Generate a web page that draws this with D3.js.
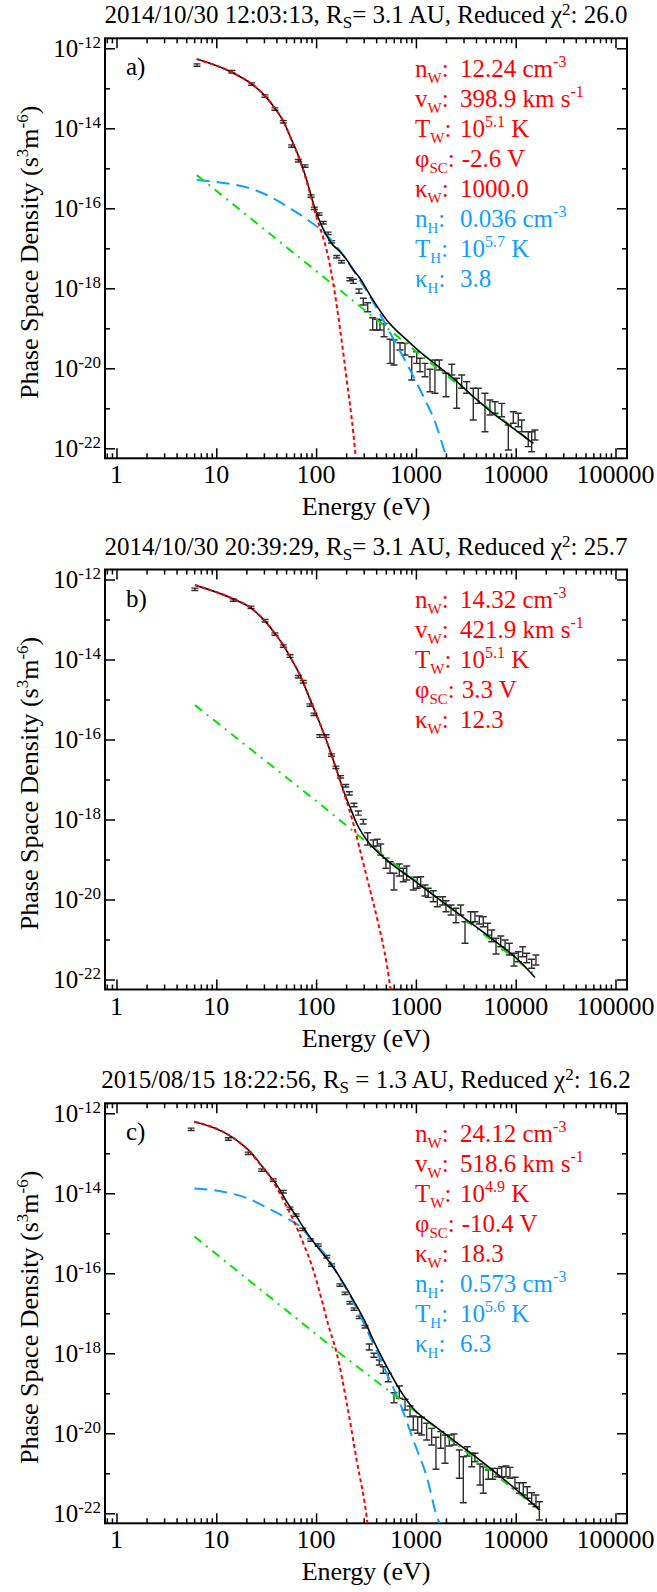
<!DOCTYPE html>
<html>
<head>
<meta charset="utf-8">
<script src="https://cdn.jsdelivr.net/npm/d3@7"></script>
<style>
  body { margin: 0; background: #fff; }
  svg { display: block; }
  svg text { font-family: 'Liberation Serif', 'DejaVu Serif', serif; }
</style>
</head>
<body>
<svg id="myGraph" width="657" height="1592"></svg>
<script>
// axis ticks
var xTickValues = [1, 10, 100, 1000, 10000, 100000];
var xTickLabels = ['1', '10', '100', '1000', '10000', '100000'];
var yTickValues = [1e-12, 1e-14, 1e-16, 1e-18, 1e-20, 1e-22];
var yTickExps = ['-12', '-14', '-16', '-18', '-20', '-22'];
var yMinorValues = [1e-13, 1e-15, 1e-17, 1e-19, 1e-21];

// ---- panel a : measured points (eV, top and bottom of error bar)
var energyA = [6.4, 14.3, 22.6, 30.8, 38.7, 46.9, 56.9, 66.4, 77.4, 88.9, 96, 107, 118, 132, 143, 161, 180,
  218, 236, 269, 297, 329, 369, 405, 437, 479, 551, 603, 693, 778, 908, 1019, 1099, 1233, 1384, 1552, 1718,
  2004, 2286, 2564, 2877, 3228, 3758, 4217, 4920, 5521, 6209, 7244, 8433, 9462, 10617, 11482, 13366, 14454, 15596];
var psdHiA = [4.09e-13, 2.78e-13, 1.37e-13, 6.86e-14, 3.24e-14, 1.56e-14, 3.86e-15, 1.66e-15, 1.22e-15, 2.17e-16,
  1.07e-16, 7.7e-17, 4.68e-17, 2.54e-17, 1.56e-17, 6.6e-18, 4.94e-18,
  1.84e-18, 1.68e-18, 9.6e-19, 5.62e-19, 4.37e-19, 1.84e-19, 1.68e-19, 1.61e-19, 1.33e-19, 5.31e-20, 5.09e-20,
  4.37e-20, 4.22e-20, 1.95e-20, 2.6e-20, 1.78e-20, 1.33e-20, 9.44e-21, 1.61e-20, 1.61e-20, 7.5e-21, 1.26e-20,
  5.62e-21, 6.79e-21, 4.62e-21, 3.16e-21, 3.16e-21, 2.37e-21, 1.61e-21, 1.46e-21, 1.33e-21, 3.82e-22, 8.22e-22,
  7.5e-22, 5.09e-22, 2.6e-22, 2.6e-22, 2.86e-22];
var psdLoA = [3.55e-13, 2.42e-13, 1.19e-13, 5.96e-14, 2.82e-14, 1.36e-14, 3.36e-15, 1.44e-15, 1.06e-15, 1.89e-16,
  9.3e-17, 6.7e-17, 4.06e-17, 2.2e-17, 1.36e-17, 5.74e-18, 4.3e-18,
  1.55e-18, 1.33e-18, 7.5e-19, 3.82e-19, 2.6e-19, 9.06e-20, 9.06e-20, 9.06e-20, 6.17e-20, 1.33e-20, 1.21e-20,
  2.86e-20, 2.15e-20, 5.09e-21, 1.33e-20, 8.22e-21, 6.17e-21, 2.6e-21, 2.37e-21, 9.06e-21, 1.95e-21, 6.79e-21,
  1.0e-21, 3.16e-21, 2.37e-21, 5.09e-22, 1.33e-21, 2.6e-22, 6.79e-22, 7.5e-22, 6.17e-22, 9.06e-23, 4.22e-22,
  3.47e-22, 2.6e-22, 1.1e-22, 8.22e-23, 1.61e-22];
// panel a : fitted curves
var totalEA = [6.37, 14.3, 22.6, 30.8, 38.7, 46.9, 56.9, 69.0, 80.5, 93.8, 109, 123, 143, 173, 203, 236, 275,
  347, 509, 809, 1099, 1614, 2371, 3758, 5970, 9462, 15000];
var totalFA = [5.37e-13, 2.51e-13, 1.29e-13, 6.46e-14, 3.16e-14, 1.51e-14, 5.13e-15, 1.62e-15, 5.13e-16, 1.32e-16,
  4.68e-17, 2.45e-17, 1.32e-17, 8.32e-18, 5.13e-18, 2.88e-18, 1.78e-18, 6.76e-19, 1.62e-19, 5.13e-20, 2.57e-20,
  1.20e-20, 5.62e-21, 1.95e-21, 7.41e-22, 3.16e-22, 1.32e-22];
var coreEA = [6.37, 14.3, 22.6, 30.8, 38.7, 46.9, 56.9, 69.0, 80.5, 93.8, 101, 118, 128, 149, 173, 203, 236, 250];
var coreFA = [5.37e-13, 2.51e-13, 1.29e-13, 6.46e-14, 3.16e-14, 1.51e-14, 5.01e-15, 1.55e-15, 4.68e-16, 1.17e-16,
  6.03e-17, 1.82e-17, 8.71e-18, 1.26e-18, 1.05e-19, 5.01e-21, 2.40e-22, 5.62e-23];
var haloEA = [6.37, 13.7, 21.8, 34.5, 54.8, 86.9, 128, 161, 255, 347, 471, 643, 873, 1186, 1614, 1950, 2042];
var haloFA = [5.13e-16, 4.07e-16, 3.16e-16, 1.95e-16, 1.0e-16, 4.68e-17, 2.14e-17, 1.10e-17, 2.14e-18, 6.17e-19,
  1.62e-19, 3.80e-20, 9.12e-21, 2.0e-21, 3.55e-22, 7.94e-23, 5.62e-23];
var powEA = [6.37, 118, 1099, 15000];
var powFA = [6.76e-16, 1.95e-18, 2.2e-20, 1.32e-22];

// ---- panel b
var energyB = [6.1, 14.8, 22.3, 30.8, 38.7, 46.9, 54.8, 66.4, 74.5, 86.9, 95.3, 109, 126, 143, 158, 176, 198, 215,
  240, 265, 297, 329, 374, 410, 444, 501, 551, 603, 682, 748, 809, 942, 1033, 1117, 1233, 1330, 1493, 1641, 1858,
  2004, 2249, 2523, 2812, 3105, 3540, 3908, 4315, 4732, 5236, 5754, 6353, 7079, 7816, 8630, 9616, 10617, 11749,
  12882, 14454, 15959];
var psdHiB = [6.09e-13, 3.28e-13, 2.16e-13, 9.98e-14, 4.64e-14, 2.32e-14, 1.31e-14, 3.98e-15, 2.99e-15, 7.79e-16,
  4.57e-16, 1.31e-16, 1.31e-16, 4.38e-17, 2.16e-17, 1.25e-17, 7.49e-18, 4.95e-18, 2.54e-18, 1.63e-18,
  1.01e-18, 4.68e-19, 3.07e-19, 3.2e-19, 2.44e-19, 1.07e-19, 8.81e-20, 4.52e-20, 7.71e-20, 6.03e-20, 6.87e-20,
  3.59e-20, 3.59e-20, 3.72e-20, 2.3e-20, 1.91e-20, 1.66e-20, 1.17e-20, 1.17e-20, 9.33e-21, 7.28e-21, 6.03e-21,
  7.28e-21, 2.79e-21, 4.95e-21, 4.95e-21, 3.86e-21, 3.72e-21, 2.54e-21, 1.73e-21, 1.07e-21, 1.22e-21, 9.7e-22,
  8.04e-22, 4.52e-22, 4.95e-22, 6.61e-22, 4.52e-22, 3.2e-22, 4.09e-22];
var psdLoB = [5.29e-13, 2.86e-13, 1.88e-13, 8.68e-14, 4.04e-14, 2.02e-14, 1.13e-14, 3.46e-15, 2.59e-15, 6.77e-16,
  3.97e-16, 1.13e-16, 1.13e-16, 3.8e-17, 1.88e-17, 1.09e-17, 6.51e-18, 4.09e-18, 2.09e-18, 1.29e-18,
  7.71e-19, 2.3e-19, 2.09e-19, 2.17e-19, 1.29e-19, 6.03e-20, 4.52e-20, 1.73e-20, 3.86e-20, 2.79e-20, 3.07e-20,
  1.73e-20, 1.91e-20, 2.09e-20, 1.22e-20, 1.13e-20, 8.81e-21, 6.61e-21, 7.28e-21, 4.95e-21, 4.09e-21, 2.63e-21,
  4.09e-21, 8.04e-22, 2.63e-21, 2.79e-21, 2.44e-21, 2.09e-21, 1.29e-21, 8.81e-22, 4.34e-22, 6.61e-22, 5.46e-22,
  4.09e-22, 2.17e-22, 2.79e-22, 3.72e-22, 2.63e-22, 1.91e-22, 2.3e-22];
var totalEB = [6.12, 14.3, 21.8, 30.8, 38.7, 46.9, 54.8, 69.0, 83.6, 101, 123, 143, 167, 195, 218, 255, 321, 509,
  942, 1742, 3228, 5970, 11040, 15600];
var totalFB = [7.24e-13, 3.39e-13, 2.0e-13, 9.12e-14, 4.47e-14, 2.29e-14, 1.17e-14, 4.07e-15, 1.29e-15, 4.07e-16,
  1.17e-16, 4.07e-17, 1.29e-17, 4.07e-18, 2.09e-18, 7.94e-19, 3.09e-19, 9.77e-20, 3.09e-20, 9.77e-21, 3.09e-21,
  9.77e-22, 2.82e-22, 1.12e-22];
var coreEB = [6.12, 14.3, 21.8, 30.8, 38.7, 46.9, 54.8, 69.0, 83.6, 101, 123, 143, 167, 195, 236, 286, 347, 420, 509, 558];
var coreFB = [7.24e-13, 3.39e-13, 2.0e-13, 9.12e-14, 4.47e-14, 2.29e-14, 1.17e-14, 4.07e-15, 1.29e-15, 4.07e-16,
  1.17e-16, 4.0e-17, 1.26e-17, 3.80e-18, 7.94e-19, 1.17e-19, 1.74e-20, 2.51e-21, 2.51e-22, 5.62e-23];
var powEB = [6.12, 109, 275, 15600];
var powFB = [7.24e-16, 2.45e-18, 3.72e-19, 1.32e-22];

// ---- panel c
var energyC = [5.6, 13.2, 20.9, 28.5, 37.2, 46.9, 54.8, 63.0, 73.5, 88.3, 105, 128, 143, 173, 195, 218, 240, 271,
  309, 341, 380, 430, 471, 528, 603, 682, 778, 873, 942, 1042, 1143, 1282, 1439, 1589, 1774, 1959, 2163, 2410,
  2723, 2985, 3273, 3622, 3908, 4385, 4732, 5321, 5888, 6546, 7244, 7998, 8770, 9840, 10864, 11912, 13062,
  14454, 15959, 17258];
var psdHiC = [4.26e-13, 2.44e-13, 1.07e-13, 4.09e-14, 2.3e-14, 1.18e-14, 4.52e-15, 3.06e-15, 1.35e-15, 7.27e-16,
  5.45e-16, 2.78e-16, 1.72e-16, 5.45e-17, 3.38e-17, 1.97e-17, 1.37e-17, 8.5e-18, 4.94e-18,
  1.71e-18, 1.0e-18, 6.79e-19, 4.62e-19, 3.16e-19, 1.03e-19, 1.52e-19, 7.08e-20, 4.81e-20, 2.7e-20, 2.6e-20,
  2.51e-20, 1.78e-20, 1.33e-20, 7.94e-21, 1.1e-20, 9.06e-21, 9.06e-21, 9.6e-21, 3.82e-21, 2.6e-21, 4.62e-21,
  3.16e-21, 3.16e-21, 1.71e-21, 1.46e-21, 1.21e-21, 1.33e-21, 1.33e-21, 1.46e-21, 1.52e-21, 1.41e-21, 7.94e-22,
  5.82e-22, 5.82e-22, 4.62e-22, 3.27e-22, 2.86e-22, 1.95e-22];
var psdLoC = [3.70e-13, 2.12e-13, 9.3e-14, 3.55e-14, 2.0e-14, 1.02e-14, 3.92e-15, 2.66e-15, 1.17e-15, 6.31e-16,
  4.73e-16, 2.42e-16, 1.50e-16, 4.73e-17, 2.94e-17, 1.71e-17, 1.19e-17, 7.38e-18, 4.30e-18,
  1.21e-18, 7.94e-19, 5.09e-19, 3.16e-19, 1.95e-19, 5.82e-20, 7.5e-20, 3.82e-20, 2.6e-20, 1.21e-20, 1.0e-20,
  9.06e-21, 6.79e-21, 5.09e-21, 1.26e-21, 4.22e-21, 1.78e-21, 4.81e-21, 5.09e-21, 7.5e-22, 1.84e-22, 2.7e-21,
  1.46e-21, 1.95e-21, 5.09e-22, 3.16e-22, 7.08e-22, 7.08e-22, 8.22e-22, 7.94e-22, 8.22e-22, 7.5e-22, 4.22e-22,
  3.16e-22, 2.86e-22, 2.37e-22, 1.71e-22, 1.46e-22, 6.79e-23];
var totalEC = [6.03, 14.3, 21.8, 30.8, 40.3, 50.7, 64.0, 83.6, 109, 143, 180, 236, 309, 374, 509, 693, 942, 1493,
  2371, 4385, 8128, 12882, 17500];
var totalFC = [6.17e-13, 2.57e-13, 1.10e-13, 3.80e-14, 1.62e-14, 6.17e-15, 2.57e-15, 9.12e-16, 3.80e-16, 1.62e-16,
  6.76e-17, 2.14e-17, 6.17e-18, 2.14e-18, 4.68e-19, 1.20e-19, 4.17e-20, 1.62e-20, 6.76e-21, 2.14e-21, 6.17e-22,
  2.34e-22, 1.20e-22];
var coreEC = [6.03, 14.3, 21.8, 25.4, 34.5, 46.9, 59.2, 74.5, 93.8, 114, 132, 161, 203, 255, 321, 327];
var coreFC = [6.17e-13, 2.57e-13, 1.07e-13, 6.76e-14, 2.63e-14, 6.76e-15, 2.14e-15, 5.62e-16, 1.20e-16, 2.14e-17,
  5.25e-18, 1.0e-18, 5.62e-20, 2.14e-21, 8.13e-23, 5.62e-23];
var haloEC = [6.03, 12.7, 21.8, 34.5, 50.7, 69.0, 93.8, 128, 173, 236, 347, 509, 693, 942, 1282, 1675, 1738];
var haloFC = [1.32e-14, 1.05e-14, 7.08e-15, 3.98e-15, 2.40e-15, 1.48e-15, 6.17e-16, 2.63e-16, 7.59e-17, 1.95e-17,
  2.63e-18, 3.16e-19, 5.62e-20, 6.76e-21, 8.32e-22, 6.76e-23, 5.62e-23];
var powEC = [6.03, 173, 643, 17500];
var powFC = [8.32e-16, 1.0e-18, 8.13e-20, 1.20e-22];

// titles: [before, subscript, middle, superscript, after]
var titleA = ['2014/10/30 12:03:13, R', 'S', '= 3.1 AU, Reduced \u03c7', '2', ': 26.0'];
var titleB = ['2014/10/30 20:39:29, R', 'S', '= 3.1 AU, Reduced \u03c7', '2', ': 25.7'];
var titleC = ['2015/08/15 18:22:56, R', 'S', ' = 1.3 AU, Reduced \u03c7', '2', ': 16.2'];

// fit parameters: [component, symbol, subscript, value, value superscript, tail]
var legendA = [
  ['core', 'n', 'W', '12.24 cm', '-3', ''],
  ['core', 'v', 'W', '398.9 km s', '-1', ''],
  ['core', 'T', 'W', '10', '5.1', ' K'],
  ['core', '\u03c6', 'SC', '-2.6 V', '', ''],
  ['core', '\u03ba', 'W', '1000.0', '', ''],
  ['halo', 'n', 'H', '0.036 cm', '-3', ''],
  ['halo', 'T', 'H', '10', '5.7', ' K'],
  ['halo', '\u03ba', 'H', '3.8', '', '']
];
var legendB = [
  ['core', 'n', 'W', '14.32 cm', '-3', ''],
  ['core', 'v', 'W', '421.9 km s', '-1', ''],
  ['core', 'T', 'W', '10', '5.1', ' K'],
  ['core', '\u03c6', 'SC', '3.3 V', '', ''],
  ['core', '\u03ba', 'W', '12.3', '', '']
];
var legendC = [
  ['core', 'n', 'W', '24.12 cm', '-3', ''],
  ['core', 'v', 'W', '518.6 km s', '-1', ''],
  ['core', 'T', 'W', '10', '4.9', ' K'],
  ['core', '\u03c6', 'SC', '-10.4 V', '', ''],
  ['core', '\u03ba', 'W', '18.3', '', ''],
  ['halo', 'n', 'H', '0.573 cm', '-3', ''],
  ['halo', 'T', 'H', '10', '5.6', ' K'],
  ['halo', '\u03ba', 'H', '6.3', '', '']
];

var serif = "'Liberation Serif', 'DejaVu Serif', serif";
var textColor = { core: '#ff0000', halo: '#0fa0ff' };
var plotLeft = 105, plotRight = 627, plotHeight = 420;
var svg = d3.select('#myGraph');

var x = d3.scaleLog().domain([0.767, 130400]).range([plotLeft, plotRight]);
var xMinor = x.ticks().filter(function(v) {
  return Math.abs(Math.log10(v) - Math.round(Math.log10(v))) > 1e-6;
});

function zip(a, b) {
  return a.map(function(v, i) { return [v, b[i]]; });
}

function label(parent, xPos, yPos, size) {
  return parent.append('text')
    .attr('x', xPos).attr('y', yPos)
    .attr('font-family', serif)
    .style('font-family', serif)
    .style('font-size', size);
}

// append text pieces with sub/superscripts
function addParts(sel, parts, small, subDy, supDy) {
  var shift = 0;
  parts.forEach(function(p) {
    if (!p[0]) return;
    var target = p[1] === 'sub' ? subDy : (p[1] === 'sup' ? supDy : 0);
    var t = sel.append('tspan').attr('dy', target - shift).text(p[0]);
    if (p[1]) t.style('font-size', small);
    shift = target;
  });
}

function drawPanel(p) {
  var top = p.top;
  var bottom = top + plotHeight;
  var y = d3.scaleLog().domain([Math.pow(10, -22.25), Math.pow(10, -11.75)]).range([bottom, top]);
  var g = svg.append('g');

  g.append('clipPath').attr('id', 'clip' + p.id)
    .append('rect')
    .attr('x', plotLeft).attr('y', top)
    .attr('width', plotRight - plotLeft).attr('height', plotHeight);

  // ticks on all four sides
  function ticks(axis, tr) {
    var a = g.append('g').attr('transform', tr).call(axis);
    a.select('.domain').remove();
    a.selectAll('line').style('stroke-width', 1.5);
  }
  ticks(d3.axisBottom(x).tickValues(xTickValues).tickSize(-10).tickSizeOuter(0).tickFormat(''), 'translate(0,' + bottom + ')');
  ticks(d3.axisBottom(x).tickValues(xMinor).tickSize(-5).tickSizeOuter(0).tickFormat(''), 'translate(0,' + bottom + ')');
  ticks(d3.axisTop(x).tickValues(xTickValues).tickSize(-10).tickSizeOuter(0).tickFormat(''), 'translate(0,' + top + ')');
  ticks(d3.axisTop(x).tickValues(xMinor).tickSize(-5).tickSizeOuter(0).tickFormat(''), 'translate(0,' + top + ')');
  ticks(d3.axisLeft(y).tickValues(yTickValues).tickSize(-10).tickSizeOuter(0).tickFormat(''), 'translate(' + plotLeft + ',0)');
  ticks(d3.axisLeft(y).tickValues(yMinorValues).tickSize(-5).tickSizeOuter(0).tickFormat(''), 'translate(' + plotLeft + ',0)');
  ticks(d3.axisRight(y).tickValues(yTickValues).tickSize(-10).tickSizeOuter(0).tickFormat(''), 'translate(' + plotRight + ',0)');
  ticks(d3.axisRight(y).tickValues(yMinorValues).tickSize(-5).tickSizeOuter(0).tickFormat(''), 'translate(' + plotRight + ',0)');

  // frame
  g.append('rect')
    .attr('x', plotLeft).attr('y', top)
    .attr('width', plotRight - plotLeft).attr('height', plotHeight)
    .attr('fill', 'none').attr('stroke', '#000').attr('stroke-width', 2);

  // tick labels
  xTickValues.forEach(function(v, i) {
    label(g, x(v), bottom + 25, '26px')
      .attr('text-anchor', 'middle')
      .text(xTickLabels[i]);
  });
  yTickValues.forEach(function(v, i) {
    var t = label(g, 101, y(v) + 8.6, '25px').attr('text-anchor', 'end');
    addParts(t, [['10'], [yTickExps[i], 'sup']], '17px', 0, -9);
  });

  // axis titles
  label(g, (plotLeft + plotRight) / 2, bottom + 57, '26px')
    .attr('text-anchor', 'middle')
    .text('Energy (eV)');
  var yl = label(g, 0, 0, '26px')
    .attr('transform', 'translate(38,' + (top + 214) + ') rotate(-90)')
    .attr('text-anchor', 'middle');
  addParts(yl, [['Phase Space Density (s'], ['3', 'sup'], ['m'], ['-6', 'sup'], [')']], '17px', 0, -10);

  // title
  var tt = label(g, (plotLeft + plotRight) / 2, top - 15, '25px').attr('text-anchor', 'middle');
  addParts(tt, [[p.title[0]], [p.title[1], 'sub'], [p.title[2]], [p.title[3], 'sup'], [p.title[4]]], '17px', 5, -8);

  // panel letter
  label(g, 126, top + 37, '25px').text(p.letter);

  // error bars
  var plot = g.append('g').attr('clip-path', 'url(#clip' + p.id + ')');
  var bars = plot.append('g')
    .attr('stroke', '#2e2e2e').attr('stroke-width', 1.4)
    .selectAll('g').data(d3.range(p.energy.length)).enter().append('g');
  bars.append('line')
    .attr('x1', function(i) { return x(p.energy[i]); })
    .attr('x2', function(i) { return x(p.energy[i]); })
    .attr('y1', function(i) { return y(p.hi[i]); })
    .attr('y2', function(i) { return y(p.lo[i]); });
  bars.append('line')
    .attr('x1', function(i) { return x(p.energy[i]) - 3.5; })
    .attr('x2', function(i) { return x(p.energy[i]) + 3.5; })
    .attr('y1', function(i) { return y(p.hi[i]); })
    .attr('y2', function(i) { return y(p.hi[i]); });
  bars.append('line')
    .attr('x1', function(i) { return x(p.energy[i]) - 3.5; })
    .attr('x2', function(i) { return x(p.energy[i]) + 3.5; })
    .attr('y1', function(i) { return y(p.lo[i]); })
    .attr('y2', function(i) { return y(p.lo[i]); });

  // fitted curves
  var line = d3.line()
    .x(function(d) { return x(d[0]); })
    .y(function(d) { return y(d[1]); });
  p.curves.forEach(function(c) {
    plot.append('path')
      .attr('d', line.curve(c.straight ? d3.curveLinear : d3.curveMonotoneX)(zip(c.e, c.f)))
      .attr('fill', 'none')
      .attr('stroke', c.color)
      .attr('stroke-width', c.width)
      .attr('stroke-dasharray', c.dash);
  });

  // fit parameter legend
  p.legend.forEach(function(l, i) {
    var by = top + 38.5 + i * 30;
    var lab = label(g, 415, by, '25px').attr('fill', textColor[l[0]]);
    addParts(lab, [[l[1]], [l[2], 'sub'], [':']], '15px', 6, -10);
    var labelEnd = 415 + lab.node().getComputedTextLength();
    var val = label(g, Math.max(460, labelEnd + 7), by, '25px').attr('fill', textColor[l[0]]);
    addParts(val, [[l[3]], [l[4], 'sup'], [l[5]]], '16px', 6, -10);
  });
}

function curveSet(coreE, coreF, haloE, haloF, powE, powF, totE, totF) {
  var list = [];
  if (haloE) list.push({ e: haloE, f: haloF, color: '#0fa0ff', width: 2, dash: '13,7' });
  list.push({ e: powE, f: powF, color: '#00e600', width: 2, dash: '9,6,2,6', straight: true });
  list.push({ e: totE, f: totF, color: '#000', width: 1.6, dash: null });
  list.push({ e: coreE, f: coreF, color: '#ff0000', width: 2, dash: '4,3' });
  return list;
}

var panels = [
  { id: 'a', top: 38.3, letter: 'a)', title: titleA, legend: legendA,
    energy: energyA, hi: psdHiA, lo: psdLoA,
    curves: curveSet(coreEA, coreFA, haloEA, haloFA, powEA, powFA, totalEA, totalFA) },
  { id: 'b', top: 569.5, letter: 'b)', title: titleB, legend: legendB,
    energy: energyB, hi: psdHiB, lo: psdLoB,
    curves: curveSet(coreEB, coreFB, null, null, powEB, powFB, totalEB, totalFB) },
  { id: 'c', top: 1103.3, letter: 'c)', title: titleC, legend: legendC,
    energy: energyC, hi: psdHiC, lo: psdLoC,
    curves: curveSet(coreEC, coreFC, haloEC, haloFC, powEC, powFC, totalEC, totalFC) }
];

panels.forEach(drawPanel);
</script>
</body>
</html>
